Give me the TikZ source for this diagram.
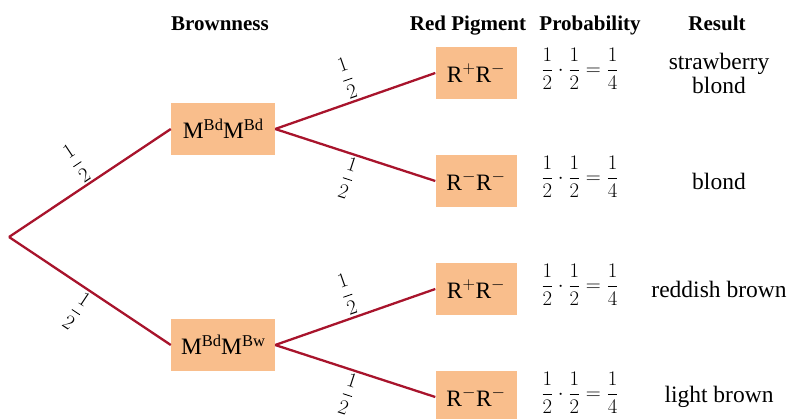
\documentclass[tikz,border=0pt]{standalone}
\usepackage{amsmath}
\usepackage{fontspec}
\setmainfont{Liberation Serif}
\usetikzlibrary{positioning}
\definecolor{branchred}{HTML}{A8142C}
\definecolor{genefill}{HTML}{F9BE8C}
\newcommand{\allele}[1]{\raisebox{8.5pt}{\fontsize{16.5}{18}\selectfont #1}}

\begin{document}
\begin{tikzpicture}[
  x=1pt,
  y=1pt,
  font=\fontsize{23.5}{26}\selectfont,
  branch/.style={draw=branchred, line width=2.3pt},
  genebox/.style={fill=genefill, inner sep=0pt, minimum height=52pt},
  brownbox/.style={genebox, minimum width=104pt},
  redbox/.style={genebox, minimum width=81pt},
  heading/.style={anchor=base, font=\fontsize{21}{25}\selectfont\bfseries},
  frac/.style={font=\fontsize{20}{24}\selectfont, inner sep=2pt},
  result/.style={align=center, font=\fontsize{23.5}{24}\selectfont}
]

\useasboundingbox (0,0) rectangle (791,418);

\node[heading] (hbrown) at (220,387) {Brownness};
\node[heading] (hred) at (468,387) {Red Pigment};
\node[heading] (hprob) at (590,387) {Probability};
\node[heading] (hresult) at (717,387) {Result};

\coordinate (root) at (9,181);
\node[brownbox] (bdbd) at (223,289) {M\allele{Bd}M\allele{Bd}};
\node[brownbox] (bdbw) at (223,73) {M\allele{Bd}M\allele{Bw}};
\draw[branch] (root) -- node[above, sloped, frac] {$\dfrac{1}{2}$} (bdbd.west);
\draw[branch] (root) -- node[below, sloped, frac] {$\dfrac{1}{2}$} (bdbw.west);

\foreach \y/\name/\gene/\res in {345/pm1/{R$^+$R$^-$}/{strawberry\\blond},237/mm1/{R$^-$R$^-$}/{blond},129/pm2/{R$^+$R$^-$}/{reddish brown},21/mm2/{R$^-$R$^-$}/{light brown}} {
  \node[redbox] (\name) at (476,\y) {\gene};
  \node[frac] (\name prob) at (580,\y+4) {$\dfrac{1}{2}\cdot\dfrac{1}{2}=\dfrac{1}{4}$};
  \node[result] (\name res) at (719,\y) {\res};
}

\draw[branch] (bdbd.east) -- node[above, sloped, frac] {$\dfrac{1}{2}$} (pm1.west);
\draw[branch] (bdbd.east) -- node[below, sloped, frac] {$\dfrac{1}{2}$} (mm1.west);
\draw[branch] (bdbw.east) -- node[above, sloped, frac] {$\dfrac{1}{2}$} (pm2.west);
\draw[branch] (bdbw.east) -- node[below, sloped, frac] {$\dfrac{1}{2}$} (mm2.west);

\end{tikzpicture}
\end{document}
